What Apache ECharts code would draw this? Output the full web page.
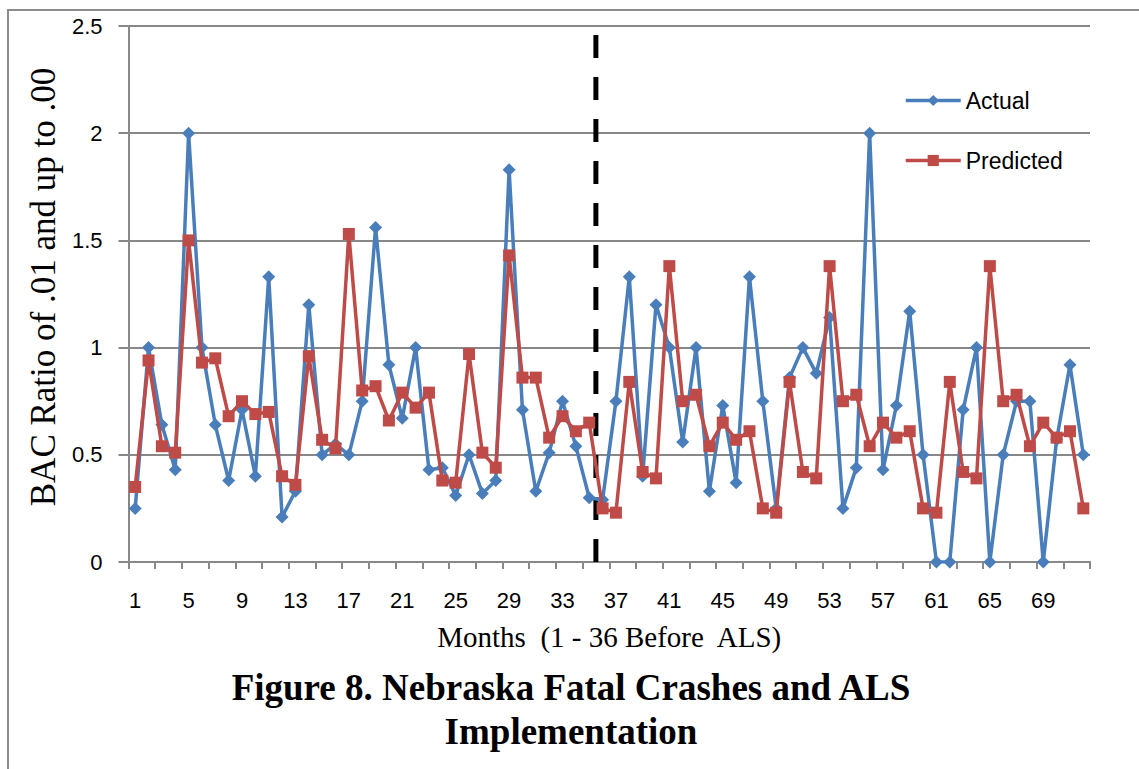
<!DOCTYPE html>
<html>
<head>
<meta charset="utf-8">
<script src="https://cdn.jsdelivr.net/npm/echarts@6/dist/echarts.min.js"></script>
<style>
html,body{margin:0;padding:0;background:#fff;}
#chart{width:1139px;height:769px;}
</style>
</head>
<body>
<div id="chart"></div>
<script>
var months = ['1','2','3','4','5','6','7','8','9','10','11','12','13','14','15','16','17','18','19','20','21','22','23','24','25','26','27','28','29','30','31','32','33','34','35','36','37','38','39','40','41','42','43','44','45','46','47','48','49','50','51','52','53','54','55','56','57','58','59','60','61','62','63','64','65','66','67','68','69','70','71','72'];
var actual = [0.25,1.0,0.64,0.43,2.0,1.0,0.64,0.38,0.71,0.40,
              1.33,0.21,0.33,1.2,0.5,0.55,0.5,0.75,1.56,0.92,
              0.67,1.0,0.43,0.44,0.31,0.5,0.32,0.38,1.83,0.71,
              0.33,0.51,0.75,0.54,0.30,0.29,0.75,1.33,0.40,1.2,
              1.0,0.56,1.0,0.33,0.73,0.37,1.33,0.75,0.25,0.86,
              1.0,0.88,1.14,0.25,0.44,2.0,0.43,0.73,1.17,0.5,
              0,0,0.71,1.0,0,0.5,0.75,0.75,0,0.57,0.92,0.5];
var predicted = [0.35,0.94,0.54,0.51,1.5,0.93,0.95,0.68,0.75,0.69,
                 0.70,0.40,0.36,0.96,0.57,0.53,1.53,0.80,0.82,0.66,
                 0.79,0.72,0.79,0.38,0.37,0.97,0.51,0.44,1.43,0.86,
                 0.86,0.58,0.68,0.61,0.65,0.25,0.23,0.84,0.42,0.39,
                 1.38,0.75,0.78,0.54,0.65,0.57,0.61,0.25,0.23,0.84,
                 0.42,0.39,1.38,0.75,0.78,0.54,0.65,0.58,0.61,0.25,
                 0.23,0.84,0.42,0.39,1.38,0.75,0.78,0.54,0.65,0.58,
                 0.61,0.25];
// ALS implementation marker: between month 35 and 36
var alsLine = [[35.5, 0], [35.5, 2.47]];

var chart = echarts.init(document.getElementById('chart'), null, {renderer: 'svg'});
var gridColor = '#888888';
var option = {
  animation: false,
  backgroundColor: '#ffffff',
  title: {
    text: 'Figure 8. Nebraska Fatal Crashes and ALS\nImplementation',
    left: 566,
    top: 660,
    textAlign: 'center',
    textStyle: {
      fontFamily: 'Liberation Serif',
      fontWeight: 'bold',
      fontSize: 37,
      lineHeight: 44,
      color: '#000'
    }
  },
  legend: {
    orient: 'vertical',
    left: 899,
    top: 84,
    itemWidth: 55,
    itemHeight: 14,
    itemGap: 37,
    lineStyle: {width: 3.5},
    textStyle: {fontFamily: 'Liberation Sans', fontSize: 23, color: '#000'},
    data: ['Actual', 'Predicted']
  },
  grid: {left: 128.5, right: 49, top: 26, bottom: 207, containLabel: false},
  xAxis: [{
    type: 'category',
    data: months,
    boundaryGap: true,
    name: 'Months  (1 - 36 Before  ALS)',
    nameLocation: 'middle',
    nameGap: 60,
    nameTextStyle: {fontFamily: 'Liberation Serif', fontSize: 29, color: '#000'},
    axisLine: {lineStyle: {color: gridColor, width: 2}},
    axisTick: {show: true, interval: 1, length: 7, lineStyle: {color: gridColor, width: 2}},
    axisLabel: {interval: 3, margin: 27, fontFamily: 'Liberation Sans', fontSize: 22, color: '#000'},
    splitLine: {show: false}
  }, {
    type: 'value',
    min: 0.5,
    max: 72.5,
    show: false
  }],
  yAxis: {
    type: 'value',
    min: 0,
    max: 2.5,
    interval: 0.5,
    name: 'BAC Ratio of .01 and up to .00',
    nameLocation: 'middle',
    nameGap: 60,
    nameTextStyle: {fontFamily: 'Liberation Serif', fontSize: 35, color: '#000', padding: [0, 0, 0, 14]},
    axisLine: {show: true, lineStyle: {color: gridColor, width: 2}},
    axisTick: {show: true, length: 10, lineStyle: {color: gridColor, width: 2}},
    axisLabel: {margin: 26, fontFamily: 'Liberation Sans', fontSize: 22, color: '#000'},
    splitLine: {show: true, lineStyle: {color: gridColor, width: 2}}
  },
  graphic: [{
    type: 'rect',
    shape: {x: 8, y: 10, width: 1200, height: 800},
    style: {fill: 'none', stroke: '#8c8c8c', lineWidth: 2},
    silent: true
  }],
  series: [{
    name: 'ALS',
    type: 'line',
    xAxisIndex: 1,
    data: alsLine,
    symbol: 'none',
    lineStyle: {color: '#000', width: 5, type: [23, 19]},
    z: 1,
    silent: true
  }, {
    name: 'Actual',
    type: 'line',
    data: actual,
    symbol: 'diamond',
    symbolSize: 13,
    showAllSymbol: true,
    color: '#4A7EBB',
    itemStyle: {color: '#4A7EBB'},
    lineStyle: {color: '#4A7EBB', width: 3.5},
    z: 3
  }, {
    name: 'Predicted',
    type: 'line',
    data: predicted,
    symbol: 'rect',
    symbolSize: 12,
    showAllSymbol: true,
    color: '#BE4B48',
    itemStyle: {color: '#BE4B48'},
    lineStyle: {color: '#BE4B48', width: 3.5},
    z: 4
  }]
};
chart.setOption(option);
</script>
</body>
</html>
